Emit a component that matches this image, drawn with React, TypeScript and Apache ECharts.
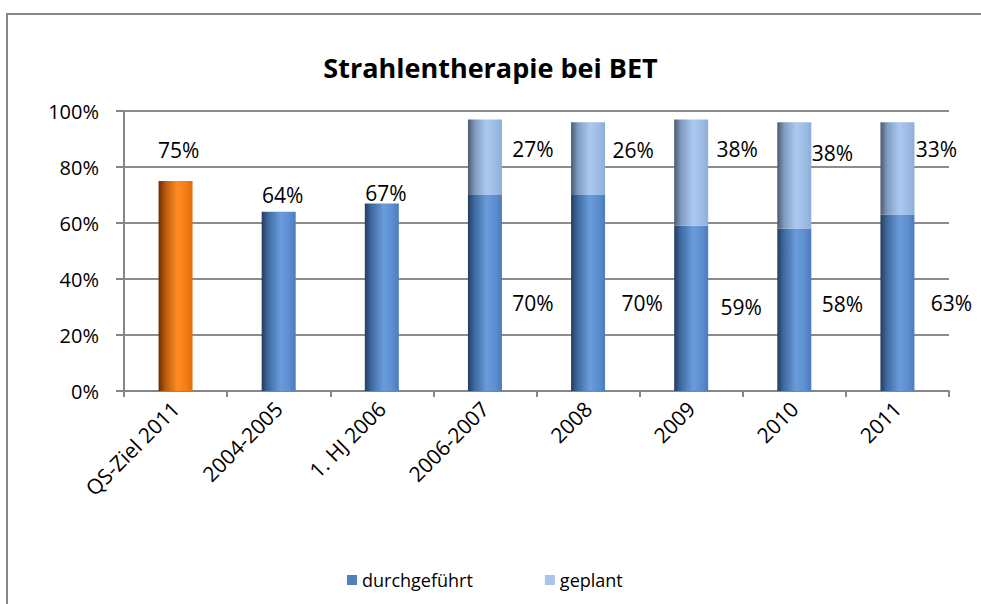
import React, { useEffect, useRef } from "react";
import * as echarts from "echarts";

const categories = ["QS-Ziel 2011", "2004-2005", "1. HJ 2006", "2006-2007", "2008", "2009", "2010", "2011"];
const durchgefuehrt = [75, 64, 67, 70, 70, 59, 58, 63];
const geplant: (number | string)[] = ["-", "-", "-", 27, 26, 38, 38, 33];
const yTicks = [0, 20, 40, 60, 80, 100];

// label anchor offsets relative to each bar's top-left corner (style only)
const durchLabelPos = [[20, -31], [21, -17], [21, -10], [65, 108], [71, 108], [67, 81], [65, 75], [71, 88]];
const geplantLabelPos = [[0, 0], [0, 0], [0, 0], [65, 30], [62, 28], [63, 30], [55, 31], [56, 27]];

const FONT = "'Open Sans', 'Noto Sans', sans-serif";

const grad = (stops: [number, string][]) =>
  new echarts.graphic.LinearGradient(0, 0, 1, 0, stops.map(([offset, color]) => ({ offset, color })));

const blueGrad = () =>
  grad([[0, "#243c5c"], [0.18, "#3d689e"], [0.55, "#6a9bda"], [0.8, "#5d8ed0"], [1, "#4c7cbd"]]);
const lightGrad = () =>
  grad([[0, "#4a5a6e"], [0.2, "#7f9bbf"], [0.55, "#abc9ef"], [0.8, "#9dbce6"], [1, "#8eaed8"]]);
const orangeGrad = () =>
  grad([[0, "#6a2e04"], [0.2, "#b85a0c"], [0.55, "#ff8c22"], [0.8, "#f67d14"], [1, "#e06e0c"]]);

export default function App() {
  const ref = useRef<HTMLDivElement>(null);
  useEffect(() => {
    if (!ref.current) return;
    const chart = echarts.init(ref.current, undefined, { renderer: "svg" });
    const labelBase = {
      show: true,
      formatter: "{c}%",
      fontFamily: FONT,
      fontSize: 21,
      color: "#000",
      align: "center",
      verticalAlign: "middle",
    };
    chart.setOption({
      animation: false,
      backgroundColor: "#fff",
      textStyle: { fontFamily: FONT },
      title: {
        text: "Strahlentherapie bei BET",
        left: "center",
        top: 49,
        textStyle: { fontFamily: FONT, fontSize: 27, fontWeight: "bold", color: "#000" },
      },
      graphic: [
        {
          type: "rect",
          shape: { x: 7, y: 14, width: 1000, height: 620 },
          style: { fill: "none", stroke: "#868686", lineWidth: 2 },
          silent: true,
        },
      ],
      legend: {
        left: 342,
        top: 566,
        icon: "rect",
        itemWidth: 10,
        itemHeight: 10,
        itemGap: 72,
        textStyle: { fontFamily: FONT, fontSize: 18, color: "#000" },
        data: [
          { name: "durchgeführt", itemStyle: { color: "#4f81bd" } },
          { name: "geplant", itemStyle: { color: "#a7c4ea" } },
        ],
      },
      grid: { left: 124, right: 32, top: 111, bottom: 213, containLabel: false },
      xAxis: {
        type: "category",
        data: categories,
        axisLine: { show: true, lineStyle: { color: "#868686", width: 2 } },
        axisTick: { show: true, length: 6, lineStyle: { color: "#868686", width: 2 }, alignWithLabel: false },
        axisLabel: { rotate: 45, fontFamily: FONT, fontSize: 21, color: "#000", margin: 14, interval: 0 },
      },
      yAxis: {
        type: "value",
        min: yTicks[0],
        max: yTicks[yTicks.length - 1],
        interval: 20,
        axisLine: { show: true, lineStyle: { color: "#868686", width: 2 } },
        axisTick: { show: true, length: 8, lineStyle: { color: "#868686", width: 2 } },
        splitLine: { show: true, lineStyle: { color: "#8c8c8c", width: 2 } },
        axisLabel: { formatter: "{value}%", fontFamily: FONT, fontSize: 20, color: "#000", margin: 25 },
      },
      series: [
        {
          name: "durchgeführt",
          type: "bar",
          stack: "total",
          barWidth: 34,
          data: durchgefuehrt.map((v, i) => ({
            value: v,
            itemStyle: { color: i === 0 ? orangeGrad() : blueGrad() },
            label: { ...labelBase, position: durchLabelPos[i] },
          })),
        },
        {
          name: "geplant",
          type: "bar",
          stack: "total",
          barWidth: 34,
          data: geplant.map((v, i) => ({
            value: v,
            itemStyle: { color: lightGrad() },
            label: { ...labelBase, show: v !== "-", position: geplantLabelPos[i] },
          })),
        },
      ],
    });
    return () => chart.dispose();
  }, []);
  return (
    <div
      ref={ref}
      style={{ position: "fixed", left: 0, top: 0, width: 981, height: 604 }}
    />
  );
}
